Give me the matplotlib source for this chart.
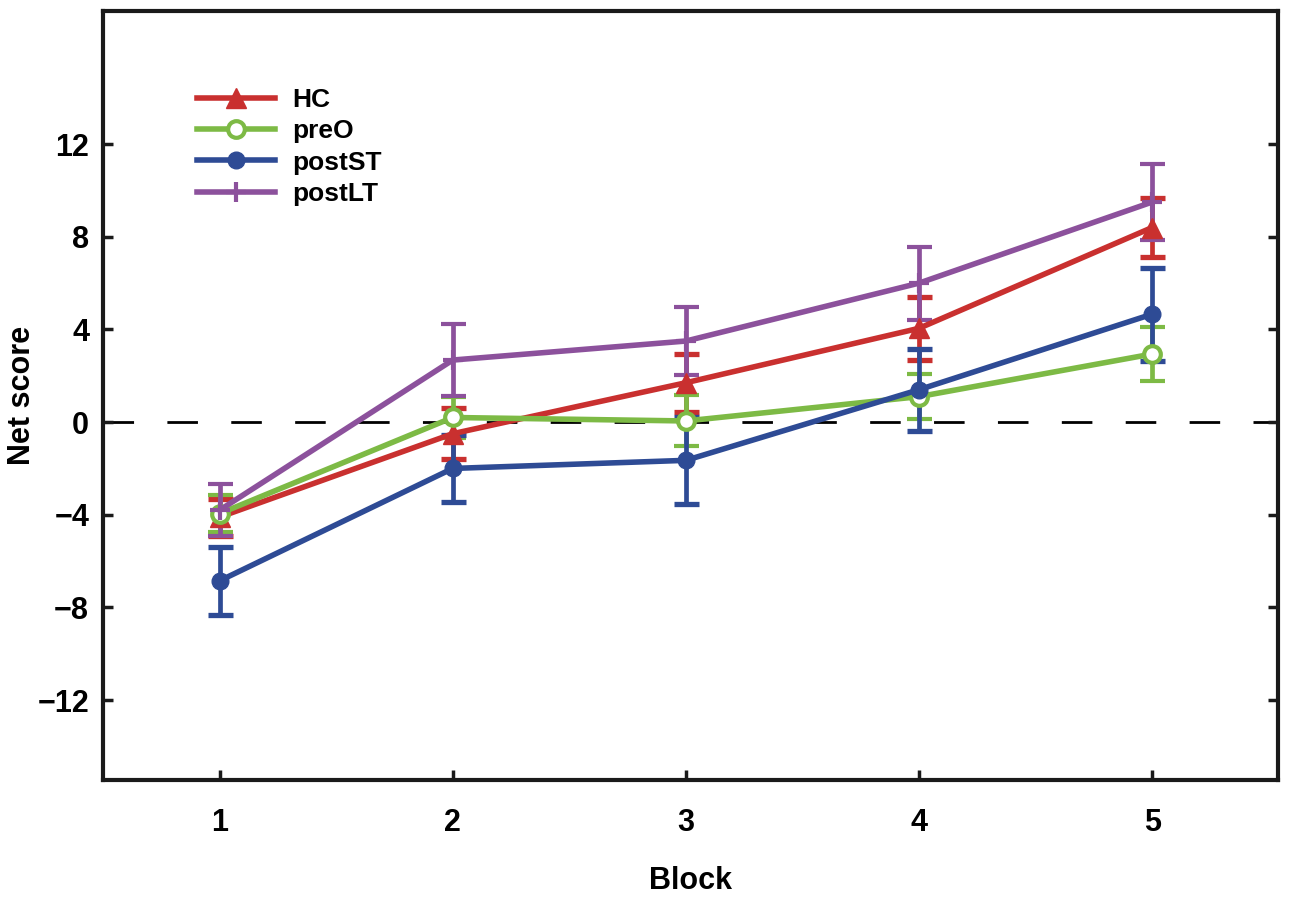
import matplotlib
matplotlib.use("Agg")
import matplotlib.pyplot as plt
from matplotlib.lines import Line2D

blocks = [1, 2, 3, 4, 5]
series_names = ["HC", "preO", "postST", "postLT"]
hc_mean = [-4.1, -0.5, 1.7, 4.05, 8.4]
hc_err = [0.8, 1.1, 1.25, 1.35, 1.28]
preo_mean = [-3.95, 0.2, 0.05, 1.1, 2.94]
preo_err = [0.8, 0.9, 1.1, 0.97, 1.17]
postst_mean = [-6.85, -2.0, -1.65, 1.4, 4.66]
postst_err = [1.47, 1.45, 1.87, 1.77, 2.0]
postlt_mean = [-3.8, 2.68, 3.5, 6.0, 9.5]
postlt_err = [1.13, 1.57, 1.46, 1.57, 1.64]
yticks = [-12, -8, -4, 0, 4, 8, 12]

plt.rcParams['font.family'] = ['Liberation Sans', 'DejaVu Sans']
plt.rcParams['font.weight'] = 'bold'

fig = plt.figure(figsize=(12.93, 8.98), dpi=100)
ax = fig.add_axes([0.0797, 0.1314, 0.9087, 0.8564])

ax.axhline(0, color='black', lw=2, dashes=(11, 12), zorder=1)

styles = [
    (hc_mean, hc_err, '#C9302F', dict(marker='^', ms=15, mfc='#C9302F', mec='#C9302F')),
    (preo_mean, preo_err, '#7DBA45', dict(marker='o', ms=12, mfc='white', mec='#7DBA45', mew=3)),
    (postst_mean, postst_err, '#2E4B95', dict(marker='o', ms=12, mfc='#2E4B95', mec='#2E4B95')),
    (postlt_mean, postlt_err, '#8C519C', dict(marker='+', ms=14, mec='#8C519C', mew=3)),
]
handles = []
for name, (m, e, c, mk) in zip(series_names, styles):
    ax.errorbar(blocks, m, yerr=e, color=c, lw=4, elinewidth=3.4,
                capsize=9, capthick=3.8, zorder=3, **mk)
    handles.append(Line2D([], [], color=c, lw=4, label=name, **mk))

ax.set_xlim(0.5, 5.54)
ax.set_ylim(-15.45, 17.75)
ax.set_xticks(blocks)
ax.set_yticks(yticks)
ax.set_yticklabels([str(t).replace('-', '\u2212') for t in yticks])
for s in ax.spines.values():
    s.set_linewidth(3)
    s.set_color('#1a1a1a')
ax.tick_params(axis='both', direction='in', length=7, width=2.5, labelsize=22,
               color='#1a1a1a', right=True, top=False)
ax.tick_params(axis='y', pad=10)
ax.tick_params(axis='x', pad=20)
ax.set_xlabel('Block', fontsize=22, fontweight='bold', labelpad=20)
ax.set_ylabel('Net score', fontsize=22, fontweight='bold', va='center')
ax.yaxis.set_label_coords(-0.069, 0.5)

ax.legend(handles=handles, loc='upper left', bbox_to_anchor=(0.08, 0.90),
          frameon=False, fontsize=19, handlelength=2.95, handletextpad=0.65,
          labelspacing=0.28, borderpad=0, borderaxespad=0)

fig.savefig('out.png', dpi=100)
